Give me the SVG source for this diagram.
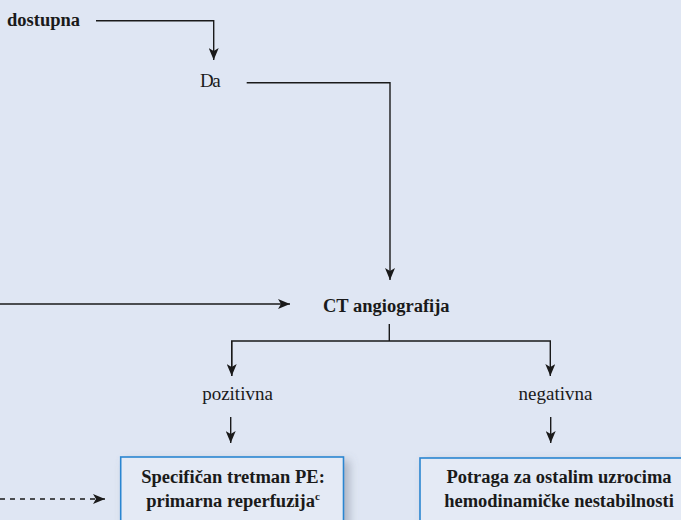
<svg xmlns="http://www.w3.org/2000/svg" width="681" height="520" viewBox="0 0 681 520">
  <style>
    .lbl { font-family: "Liberation Serif", "Times New Roman", serif; font-size: 19px; fill: #1a1a1a; }
    .b { font-weight: bold; font-size: 18.5px; }
    .mid { text-anchor: middle; }
    .ln { fill: none; stroke: #1a1a1a; stroke-width: 1.4; }
    .dash { stroke-dasharray: 5 5; }
    .box { fill: #e4eaf5; stroke: #2a86d1; stroke-width: 1.6; }
  </style>
  <defs>
    <marker id="arr" markerUnits="userSpaceOnUse" viewBox="0 -5 12 10" refX="12" refY="0" markerWidth="12" markerHeight="10" orient="auto">
      <path d="M0,-5 L12,0 L0,5 L3,0 z" fill="#1a1a1a"/>
    </marker>
    <filter id="shadow" x="-10%" y="-20%" width="130%" height="150%">
      <feDropShadow dx="5" dy="4" stdDeviation="5" flood-color="#6a7384" flood-opacity="0.45"/>
    </filter>
  </defs>

  <rect width="681" height="520" fill="#dfe6f3"/>

  <!-- connectors -->
  <g id="connectors">
    <polyline class="ln" points="96,20.7 213.7,20.7 213.7,60" marker-end="url(#arr)"/>
    <polyline class="ln" points="246.7,82.7 390,82.7 390,280" marker-end="url(#arr)"/>
    <line class="ln" x1="0" y1="304" x2="290" y2="304" marker-end="url(#arr)"/>
    <line class="ln" x1="389.3" y1="324" x2="389.3" y2="341"/>
    <polyline class="ln" points="231.7,376 231.7,341 550.3,341 550.3,376" marker-end="url(#arr)"/>
    <line class="ln" x1="231.7" y1="341" x2="231.7" y2="376" marker-end="url(#arr)"/>
    <line class="ln" x1="230.7" y1="417" x2="230.7" y2="443" marker-end="url(#arr)"/>
    <line class="ln" x1="550.7" y1="417" x2="550.7" y2="443" marker-end="url(#arr)"/>
    <line class="ln dash" x1="0" y1="499" x2="105" y2="499" marker-end="url(#arr)"/>
  </g>

  <!-- labels -->
  <g id="dostupna">
    <text class="lbl b" x="7" y="26">dostupna</text>
  </g>
  <g id="da">
    <text class="lbl" x="200" y="87" letter-spacing="-1.5">Da</text>
  </g>
  <g id="ct-angiografija">
    <text class="lbl b" x="323" y="312">CT angiografija</text>
  </g>
  <g id="pozitivna">
    <text class="lbl mid" x="237.5" y="400">pozitivna</text>
  </g>
  <g id="negativna">
    <text class="lbl mid" x="555.5" y="400">negativna</text>
  </g>

  <!-- outcome boxes -->
  <g id="primarna-reperfuzija">
    <rect class="box" x="120.7" y="457" width="222.8" height="90" filter="url(#shadow)"/>
    <text class="lbl b mid" x="233" y="483">Specifičan tretman PE:</text>
    <text class="lbl b mid" x="233" y="507">primarna reperfuzija<tspan font-size="11" dy="-7">c</tspan></text>
  </g>
  <g id="ostali-uzroci">
    <rect class="box" x="420" y="458" width="277" height="90" filter="url(#shadow)"/>
    <text class="lbl b mid" x="559" y="483">Potraga za ostalim uzrocima</text>
    <text class="lbl b mid" x="559" y="507">hemodinamičke nestabilnosti</text>
  </g>
</svg>
